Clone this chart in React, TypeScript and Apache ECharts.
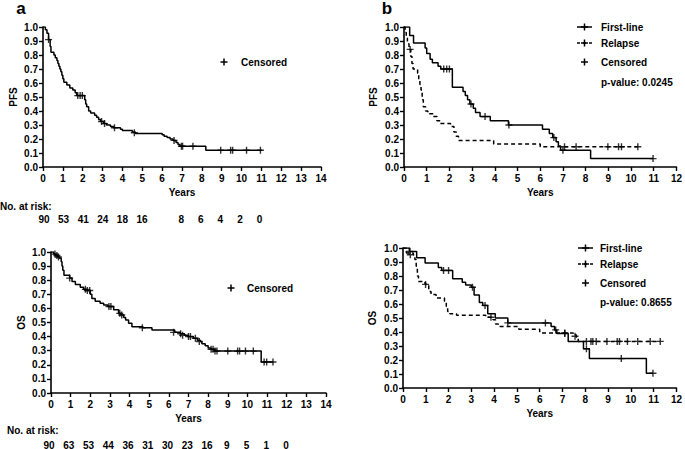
import React, { useEffect, useRef } from "react";
import * as echarts from "echarts";

const FONT = "'Liberation Sans', Arial, Helvetica, sans-serif";

// ---- Panel a, PFS (all patients) ----
const pfsA_t = [0, 0.12, 0.2, 0.28, 0.36, 0.4, 0.55, 0.62, 0.7, 0.75, 0.8, 0.85, 0.9, 0.95, 1.0, 1.05, 1.2, 1.35, 1.5, 1.62, 1.7, 2.1, 2.15, 2.2, 2.3, 2.4, 2.6, 2.7, 2.8, 2.9, 3.05, 3.2, 3.4, 3.55, 3.9, 4.0, 4.5, 4.65, 6.0, 6.1, 6.25, 6.4, 6.55, 6.7, 6.8, 6.9, 8.2, 11.02];
const pfsA_s = [1.0, 0.98, 0.955, 0.91, 0.86, 0.82, 0.8, 0.78, 0.76, 0.74, 0.72, 0.7, 0.68, 0.655, 0.63, 0.605, 0.585, 0.565, 0.55, 0.53, 0.51, 0.48, 0.45, 0.43, 0.4, 0.385, 0.37, 0.355, 0.34, 0.325, 0.31, 0.3, 0.29, 0.28, 0.27, 0.26, 0.25, 0.24, 0.23, 0.22, 0.21, 0.2, 0.19, 0.175, 0.16, 0.148, 0.12, 0.12];
const pfsA_ct = [0.28, 1.75, 1.87, 1.98, 2.95, 3.1, 3.6, 4.6, 6.6, 6.97, 7.03, 7.55, 8.95, 9.45, 9.55, 10.25, 10.95];
const pfsA_cs = [0.91, 0.51, 0.51, 0.51, 0.325, 0.31, 0.28, 0.245, 0.19, 0.148, 0.148, 0.148, 0.12, 0.12, 0.12, 0.12, 0.12];

// ---- Panel b, PFS ----
const pfsB1_t = [0, 0.25, 0.42, 0.93, 1.0, 1.15, 1.25, 1.5, 1.62, 2.13, 2.6, 2.7, 2.8, 2.9, 3.05, 3.15, 3.35, 3.8, 4.6, 6.1, 6.4, 6.55, 6.7, 6.8, 6.9, 8.22, 10.98];
const pfsB1_s = [1.0, 0.94, 0.885, 0.85, 0.81, 0.77, 0.745, 0.72, 0.7, 0.57, 0.54, 0.51, 0.48, 0.45, 0.42, 0.39, 0.36, 0.33, 0.3, 0.27, 0.24, 0.21, 0.18, 0.15, 0.12, 0.06, 0.06];
const pfsB1_ct = [1.75, 1.88, 2.0, 2.95, 3.57, 4.62, 6.6, 7.0, 10.97];
const pfsB1_cs = [0.7, 0.7, 0.7, 0.45, 0.36, 0.3, 0.21, 0.12, 0.06];
const pfsB2_t = [0, 0.05, 0.1, 0.15, 0.22, 0.3, 0.35, 0.4, 0.6, 0.65, 0.7, 0.75, 0.8, 0.85, 0.95, 1.05, 1.3, 1.45, 1.6, 2.05, 2.2, 2.3, 2.4, 3.95, 6.0, 10.3];
const pfsB2_s = [1.0, 0.96, 0.92, 0.88, 0.84, 0.79, 0.74, 0.7, 0.67, 0.63, 0.59, 0.55, 0.48, 0.43, 0.4, 0.38, 0.36, 0.33, 0.31, 0.29, 0.25, 0.22, 0.19, 0.165, 0.145, 0.145];
const pfsB2_ct = [0.27, 7.07, 7.58, 8.98, 9.45, 9.58, 10.3];
const pfsB2_cs = [0.84, 0.145, 0.145, 0.145, 0.145, 0.145, 0.145];

// ---- Panel a, OS ----
const osA_t = [0, 0.14, 0.25, 0.35, 0.44, 0.52, 0.56, 0.6, 0.66, 0.95, 1.07, 1.24, 1.49, 1.66, 1.8, 2.0, 2.08, 2.25, 2.5, 2.68, 2.9, 3.19, 3.44, 3.55, 3.7, 3.8, 3.95, 4.12, 4.68, 5.14, 6.3, 6.58, 6.8, 7.0, 7.25, 7.45, 7.6, 7.68, 7.85, 8.0, 8.14, 8.3, 10.7, 11.32];
const osA_s = [1.0, 0.985, 0.975, 0.965, 0.955, 0.93, 0.9, 0.87, 0.835, 0.815, 0.79, 0.77, 0.75, 0.735, 0.727, 0.7, 0.67, 0.65, 0.636, 0.625, 0.613, 0.59, 0.565, 0.553, 0.535, 0.518, 0.494, 0.47, 0.463, 0.447, 0.43, 0.42, 0.41, 0.4, 0.388, 0.375, 0.365, 0.35, 0.335, 0.32, 0.31, 0.297, 0.22, 0.22];
const osA_ct = [0.2, 0.3, 0.38, 0.95, 1.75, 1.85, 1.97, 2.95, 3.05, 3.5, 3.6, 4.65, 6.24, 6.6, 6.7, 7.0, 7.1, 7.35, 7.55, 8.15, 8.25, 8.35, 8.45, 9.0, 9.5, 9.6, 9.9, 10.3, 10.85, 10.98, 11.3];
const osA_cs = [0.985, 0.975, 0.965, 0.815, 0.735, 0.727, 0.727, 0.613, 0.613, 0.565, 0.553, 0.463, 0.43, 0.42, 0.41, 0.4, 0.4, 0.388, 0.365, 0.31, 0.31, 0.297, 0.297, 0.297, 0.297, 0.297, 0.297, 0.297, 0.22, 0.22, 0.22];

// ---- Panel b, OS ----
const osB1_t = [0, 0.3, 0.6, 0.97, 1.55, 1.7, 2.18, 2.6, 2.75, 3.0, 3.12, 3.35, 3.5, 3.72, 4.05, 4.6, 6.5, 6.65, 6.75, 7.25, 7.92, 8.18, 10.68, 10.97];
const osB1_s = [1.0, 0.975, 0.93, 0.893, 0.86, 0.84, 0.78, 0.755, 0.735, 0.72, 0.665, 0.61, 0.59, 0.53, 0.5, 0.465, 0.44, 0.415, 0.39, 0.333, 0.28, 0.21, 0.105, 0.105];
const osB1_ct = [0.27, 1.78, 2.0, 3.05, 3.6, 4.6, 6.25, 6.7, 7.1, 8.05, 9.58, 10.97];
const osB1_cs = [0.975, 0.84, 0.84, 0.72, 0.59, 0.465, 0.465, 0.415, 0.39, 0.28, 0.21, 0.105];
const osB2_t = [0, 0.15, 0.45, 0.52, 0.58, 0.63, 0.68, 0.87, 1.0, 1.13, 1.23, 1.45, 1.82, 1.9, 1.96, 2.06, 2.35, 3.63, 3.95, 4.06, 4.18, 5.08, 6.0, 7.47, 7.6, 7.69, 11.29];
const osB2_s = [1.0, 0.965, 0.952, 0.917, 0.87, 0.8, 0.76, 0.75, 0.74, 0.69, 0.667, 0.643, 0.62, 0.583, 0.547, 0.53, 0.52, 0.505, 0.488, 0.457, 0.44, 0.42, 0.393, 0.38, 0.365, 0.333, 0.333];
const osB2_ct = [0.32, 0.99, 3.86, 7.1, 7.55, 8.05, 8.25, 8.33, 8.48, 8.95, 9.4, 9.5, 9.85, 10.3, 10.85, 11.29];
const osB2_cs = [0.952, 0.74, 0.505, 0.393, 0.37, 0.333, 0.333, 0.333, 0.333, 0.333, 0.333, 0.333, 0.333, 0.333, 0.333, 0.333];

// ---- Numbers at risk ----
const riskPFS = ["90", "53", "41", "24", "18", "16", "", "8", "6", "4", "2", "0"];
const riskOS = ["90", "63", "53", "44", "36", "31", "30", "23", "16", "9", "5", "1", "0"];

const pValuePFS = "p-value: 0.0245";
const pValueOS = "p-value: 0.8655";

const PLUS = "path://M4,0H6V4H10V6H6V10H4V6H0V4H4Z";

function zip(t: number[], s: number[]) {
  return t.map((x, i) => [x, s[i]]);
}

export default function App() {
  const ref = useRef<HTMLDivElement>(null);
  useEffect(() => {
    if (!ref.current) return;
    const chart = echarts.init(ref.current, null, { renderer: "svg" });

    const grids = [
      { left: 43, top: 27, width: 278, height: 140 },
      { left: 404, top: 27, width: 276, height: 140 },
      { left: 51, top: 252, width: 275, height: 141 },
      { left: 403, top: 248, width: 276, height: 140 },
    ];
    const axisCommon = {
      axisLine: { show: true, lineStyle: { color: "#000", width: 1.6 } },
      axisTick: { show: true, length: 4, lineStyle: { color: "#000", width: 1.4 } },
      splitLine: { show: false },
      axisLabel: { color: "#000", fontWeight: "bold", fontSize: 10, fontFamily: FONT },
    };
    const xMax = [14, 12, 14, 12];
    const xAxes = grids.map((_, i) => ({
      ...axisCommon,
      type: "value",
      gridIndex: i,
      min: 0,
      max: xMax[i],
      interval: 1,
      name: "Years",
      nameLocation: "middle",
      nameGap: 20,
      nameTextStyle: { color: "#000", fontWeight: "bold", fontSize: 10, fontFamily: FONT },
      axisLabel: { ...axisCommon.axisLabel, margin: 6 },
    }));
    const yNames = ["PFS", "PFS", "OS", "OS"];
    const yGaps = [25, 26, 25, 26];
    const yAxes = grids.map((_, i) => ({
      ...axisCommon,
      type: "value",
      gridIndex: i,
      min: 0,
      max: 1,
      interval: 0.1,
      name: yNames[i],
      nameLocation: "middle",
      nameGap: yGaps[i],
      nameTextStyle: { color: "#000", fontWeight: "bold", fontSize: 10, fontFamily: FONT },
      axisLabel: { ...axisCommon.axisLabel, margin: 5, formatter: (v: number) => v.toFixed(1) },
    }));

    const lineSeries = (idx: number, t: number[], s: number[], dashed: boolean) => ({
      type: "line",
      xAxisIndex: idx,
      yAxisIndex: idx,
      step: "end",
      symbol: "none",
      data: zip(t, s),
      lineStyle: { color: "#000", width: 1.5, type: dashed ? [4, 3] : "solid" },
      silent: true,
    });
    const censorSeries = (idx: number, t: number[], s: number[]) => ({
      type: "scatter",
      xAxisIndex: idx,
      yAxisIndex: idx,
      symbol: PLUS,
      symbolSize: 7,
      itemStyle: { color: "#000" },
      data: zip(t, s),
      silent: true,
    });

    const txt = (x: number, y: number, text: string, size = 10, align = "left") => ({
      type: "text",
      x,
      y,
      style: {
        text,
        fill: "#000",
        font: `bold ${size}px ${FONT}`,
        align,
        verticalAlign: "middle",
      },
    });
    const plus = (x: number, y: number, h = 3.5) => [
      { type: "line", shape: { x1: x - h, y1: y, x2: x + h, y2: y }, style: { stroke: "#000", lineWidth: 1.5 } },
      { type: "line", shape: { x1: x, y1: y - h, x2: x, y2: y + h }, style: { stroke: "#000", lineWidth: 1.5 } },
    ];
    const legendB = (y0: number, yr: number, yc: number, yp: number, x0: number, xt: number, pText: string) => [
      { type: "line", shape: { x1: x0, y1: y0, x2: x0 + 15, y2: y0 }, style: { stroke: "#000", lineWidth: 1.5 } },
      ...plus(x0 + 7.5, y0),
      { type: "line", shape: { x1: x0, y1: yr, x2: x0 + 15, y2: yr }, style: { stroke: "#000", lineWidth: 1.5, lineDash: [3, 3] } },
      ...plus(x0 + 7.5, yr),
      txt(xt, y0, "First-line"),
      txt(xt, yr, "Relapse"),
      ...plus(x0 + 7.5, yc),
      txt(xt, yc, "Censored"),
      txt(xt, yp, pText),
    ];

    const riskText = (items: string[], x0: number, step: number, y: number) =>
      items.map((v, i) => txt(x0 + i * step, y, v, 10, "center"));

    const graphic = [
      txt(21, 8, "a", 17, "center"),
      txt(387, 8, "b", 17, "center"),
      ...plus(224, 62),
      txt(241, 62, "Censored"),
      ...plus(231, 288),
      txt(247, 288, "Censored"),
      ...legendB(27, 43, 62, 82, 577, 601, pValuePFS),
      ...legendB(248, 264, 283, 302, 578, 600, pValueOS),
      txt(0, 206, "No. at risk:"),
      ...riskText(riskPFS, 44, 19.6, 219),
      txt(7, 430, "No. at risk:"),
      ...riskText(riskOS, 49, 19.75, 445),
    ];

    chart.setOption({
      animation: false,
      backgroundColor: "#fff",
      grid: grids,
      xAxis: xAxes,
      yAxis: yAxes,
      series: [
        lineSeries(0, pfsA_t, pfsA_s, false),
        censorSeries(0, pfsA_ct, pfsA_cs),
        lineSeries(1, pfsB1_t, pfsB1_s, false),
        censorSeries(1, pfsB1_ct, pfsB1_cs),
        lineSeries(1, pfsB2_t, pfsB2_s, true),
        censorSeries(1, pfsB2_ct, pfsB2_cs),
        lineSeries(2, osA_t, osA_s, false),
        censorSeries(2, osA_ct, osA_cs),
        lineSeries(3, osB1_t, osB1_s, false),
        censorSeries(3, osB1_ct, osB1_cs),
        lineSeries(3, osB2_t, osB2_s, true),
        censorSeries(3, osB2_ct, osB2_cs),
      ],
      graphic,
    });
    return () => chart.dispose();
  }, []);
  return (
    <div
      ref={ref}
      style={{ position: "absolute", left: 0, top: 0, width: 685, height: 449, background: "#fff" }}
    />
  );
}
